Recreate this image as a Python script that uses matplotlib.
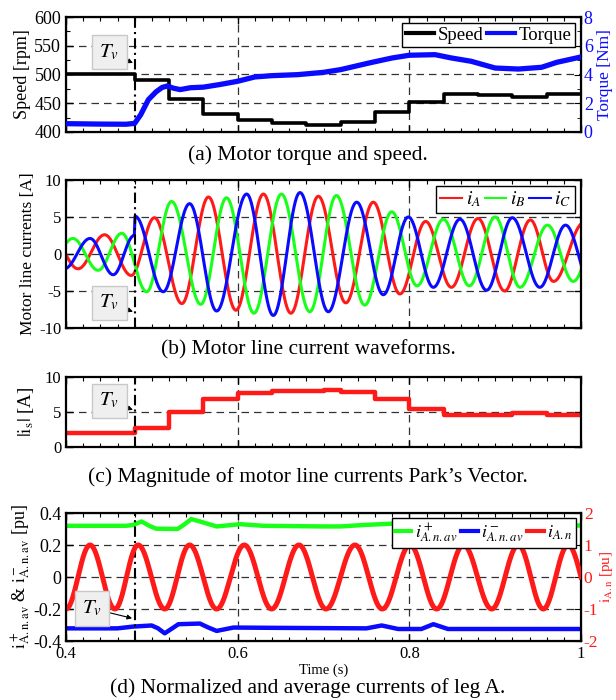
import numpy as np
import matplotlib
matplotlib.use("Agg")
import matplotlib.pyplot as plt
from matplotlib.ticker import MultipleLocator, FixedLocator
from matplotlib.lines import Line2D

plt.rcParams['font.family'] = ['Liberation Serif', 'DejaVu Serif']
plt.rcParams['mathtext.fontset'] = 'stix'
plt.rcParams['axes.unicode_minus'] = False

# ---------------- data ----------------
T_V = 0.48

# (a) speed staircase and torque
speed_t = [0.40, 0.48, 0.52, 0.56, 0.60, 0.64, 0.68, 0.72, 0.76, 0.80, 0.84, 0.88, 0.92, 0.96, 1.00]
speed_v = [500, 490, 457, 432, 420, 415, 413, 418, 434, 453, 466, 465, 460, 466, 466]

torque_t = [0.40, 0.44, 0.47, 0.48, 0.487, 0.496, 0.505, 0.512, 0.518, 0.525, 0.533, 0.545,
            0.56, 0.579, 0.60, 0.62, 0.64, 0.67, 0.70, 0.72, 0.753, 0.78, 0.80, 0.83,
            0.849, 0.872, 0.90, 0.927, 0.954, 0.972, 1.00]
torque_v = [0.58, 0.55, 0.54, 0.60, 1.2, 2.25, 2.8, 3.1, 3.2, 3.05, 2.95, 3.08,
            3.12, 3.3, 3.53, 3.83, 3.92, 3.99, 4.15, 4.34, 4.8, 5.15, 5.34, 5.38,
            5.15, 4.92, 4.45, 4.38, 4.5, 4.85, 5.22]

# (b) extremes (time, value) of the three line currents
ia_t = [0.385, 0.414, 0.445, 0.476, 0.503, 0.535, 0.566, 0.598, 0.630, 0.662, 0.694, 0.726,
        0.758, 0.789, 0.819, 0.849, 0.880, 0.911, 0.941, 0.968, 1.003]
ia_v = [2.0, -2.0, 2.6, -2.9, 4.9, -6.7, 7.7, -7.6, 8.1, -8.0, 7.8, -6.6,
        7.0, -5.4, 4.4, -4.5, 4.8, -5.0, 4.6, -3.7, 4.2]
ib_t = [0.378, 0.408, 0.4375, 0.465, 0.494, 0.523, 0.557, 0.587, 0.619, 0.651, 0.684, 0.715,
        0.748, 0.7795, 0.809, 0.8396, 0.870, 0.900, 0.929, 0.961, 0.991, 1.022]
ib_v = [-2.0, 2.1, -2.2, 2.8, -5.1, 7.1, -6.8, 7.6, -8.0, 8.1, -7.8, 7.9,
        -6.9, 5.7, -4.3, 4.7, -4.3, 5.0, -4.5, 3.9, -3.7, 4.0]
ic_t = [0.398, 0.428, 0.455, 0.4795, 0.4805, 0.5133, 0.544, 0.5755, 0.6105, 0.6415, 0.6726,
        0.7056, 0.7387, 0.7697, 0.7988, 0.828, 0.859, 0.890, 0.920, 0.952, 0.982, 1.013]
ic_v = [-2.0, 2.1, -2.8, 2.5, 5.1, -5.1, 6.8, -7.7, 8.1, -8.3, 8.3,
        -7.8, 7.0, -5.5, 5.0, -4.5, 4.7, -4.9, 4.9, -4.5, 3.9, -4.5]

# (c) |is| staircase
is_t = [0.40, 0.48, 0.52, 0.56, 0.60, 0.64, 0.70, 0.72, 0.76, 0.80, 0.84, 0.92, 0.96, 1.00]
is_v = [2.0, 2.7, 5.0, 6.8, 7.7, 8.0, 8.1, 7.8, 6.8, 5.5, 4.6, 4.8, 4.6, 4.6]

# (d) average currents and normalised current extremes
ip_t = [0.40, 0.47, 0.478, 0.488, 0.497, 0.505, 0.53, 0.537, 0.546, 0.556, 0.5755, 0.603,
        0.63, 0.70, 0.72, 0.75, 0.783, 0.80, 0.85, 0.90, 0.95, 1.00]
ip_v = [0.320, 0.320, 0.325, 0.347, 0.320, 0.302, 0.300, 0.325, 0.362, 0.347, 0.316, 0.330,
        0.320, 0.316, 0.316, 0.326, 0.334, 0.306, 0.318, 0.322, 0.320, 0.322]
im_t = [0.40, 0.46, 0.478, 0.4997, 0.507, 0.515, 0.524, 0.531, 0.556, 0.5655, 0.5755, 0.595,
        0.65, 0.75, 0.7678, 0.787, 0.814, 0.828, 0.845, 0.90, 1.00]
im_v = [-0.321, -0.321, -0.310, -0.303, -0.320, -0.352, -0.320, -0.295, -0.291, -0.315, -0.337, -0.316,
        -0.318, -0.321, -0.303, -0.325, -0.325, -0.295, -0.325, -0.325, -0.325]
ian_t = [0.400, 0.428, 0.457, 0.484, 0.515, 0.544, 0.5755, 0.6077, 0.6396, 0.6714, 0.7029,
         0.7367, 0.7685, 0.8008, 0.8319, 0.863, 0.896, 0.927, 0.956, 0.985, 1.015]
ian_v = [-1, 1, -1, 1, -1, 1, -1, 1, -1, 1, -1, 1, -1, 1, -1, 1, -1, 1, -1, 1, -1]

x_ticks = [0.4, 0.6, 0.8, 1.0]
x_tick_labels = ["0.4", "0.6", "0.8", "1"]
captions = ["(a) Motor torque and speed.",
            "(b) Motor line current waveforms.",
            "(c) Magnitude of motor line currents Park\u2019s Vector.",
            "(d) Normalized and average currents of leg A."]


def smooth_wave(ext_t, ext_v, t):
    ext_t = np.asarray(ext_t)
    ext_v = np.asarray(ext_v)
    idx = np.clip(np.searchsorted(ext_t, t) - 1, 0, len(ext_t) - 2)
    t0, t1 = ext_t[idx], ext_t[idx + 1]
    v0, v1 = ext_v[idx], ext_v[idx + 1]
    s = (t - t0) / (t1 - t0)
    return v0 + (v1 - v0) * (1 - np.cos(np.pi * s)) / 2


# ---------------- figure ----------------
fig = plt.figure(figsize=(6.16, 7.0), dpi=100)
L, R = 66 / 616, 581 / 616
W = R - L


def box(top, bottom):
    return [L, 1 - bottom / 700, W, (bottom - top) / 700]


ax_a = fig.add_axes(box(17, 132))
ax_b = fig.add_axes(box(180, 328))
ax_c = fig.add_axes(box(377, 447))
ax_d = fig.add_axes(box(513, 641))

GRID = dict(color='0.2', lw=0.9, ls=(0, (6, 4)), zorder=0.5)
BLUE = '#0a0aff'
RED = '#ff1a1a'
GREEN = '#1aff1a'


def common(ax, yticks, hlines, show_xlabels=False, right_ticks=True):
    ax.set_xlim(0.4, 1.0)
    ax.xaxis.set_major_locator(FixedLocator(x_ticks))
    ax.xaxis.set_minor_locator(MultipleLocator(0.02))
    if show_xlabels:
        ax.set_xticklabels(x_tick_labels, fontsize=13)
    else:
        ax.set_xticklabels([])
    ax.set_yticks(yticks)
    ax.tick_params(which='both', direction='in', top=True, right=right_ticks, labelsize=12)
    ax.tick_params(which='major', length=5, width=1)
    ax.tick_params(which='minor', length=3, width=0.8)
    for s in ax.spines.values():
        s.set_linewidth(1.6)
    for h in hlines:
        ax.axhline(h, **GRID)
    for v in (0.6, 0.8):
        ax.axvline(v, **GRID)
    ax.axvline(T_V, color='k', lw=1.5, ls=(0, (5, 2, 1, 2)), zorder=3)


def tv_note(ax, xy, xytext, fs=15):
    ax.annotate(r'$T_v$', xy=xy, xytext=xytext, ha='center', va='center', fontsize=fs,
                bbox=dict(boxstyle='square,pad=0.35', fc='#efefef', ec='#c8c8c8', lw=1),
                arrowprops=dict(arrowstyle='-|>', color='k', lw=0.8, mutation_scale=7,
                                shrinkA=0, shrinkB=0),
                zorder=6)


def frame_legend(ax, handles, labels, fs, hl, **kw):
    leg = ax.legend(handles=handles, labels=labels, loc='upper right', ncol=len(labels),
                    fontsize=fs, frameon=True, fancybox=False, edgecolor='k', framealpha=1,
                    handlelength=hl, handletextpad=0.2, columnspacing=0.2, borderpad=0.2, **kw)
    leg.get_frame().set_linewidth(1.0)
    return leg


# ---- (a)
ax_a.set_ylim(400, 600)
common(ax_a, [400, 450, 500, 550, 600], [450, 500, 550], right_ticks=False)
ax_a.yaxis.set_minor_locator(MultipleLocator(25))
ax_a.set_yticklabels(["400", "450", "500", "550", "600"], fontsize=13)
ax_a.plot(speed_t, speed_v, color='k', lw=2.6, drawstyle='steps-post', zorder=4)
ax_a.set_ylabel("Speed [rpm]", fontsize=13, labelpad=2)
ax_a2 = ax_a.twinx()
ax_a2.set_ylim(0, 8)
ax_a2.set_yticks([0, 2, 4, 6, 8])
ax_a2.yaxis.set_minor_locator(MultipleLocator(1))
ax_a2.tick_params(which='both', direction='in', labelsize=13, labelcolor=BLUE, pad=2)
ax_a2.tick_params(which='major', length=5)
ax_a2.tick_params(which='minor', length=3)
ax_a2.plot(torque_t, torque_v, color=BLUE, lw=3.8, zorder=3)
ax_a2.set_ylabel("Torque [Nm]", fontsize=12.5, color=BLUE, labelpad=3)
tv_note(ax_a2, (0.478, 4.8), (0.4505, 5.55))
frame_legend(ax_a2, [Line2D([], [], color='k', lw=3), Line2D([], [], color=BLUE, lw=3)],
             ["Speed", "Torque"], 13.5, 1.5, borderaxespad=0.3)

# ---- (b)
tt = np.linspace(0.4, 1.0, 3000)
ax_b.set_ylim(-10, 10)
common(ax_b, [-10, -5, 0, 5, 10], [-5, 0, 5])
ax_b.plot(tt, smooth_wave(ia_t, ia_v, tt), color=RED, lw=2.2, zorder=2)
ax_b.plot(tt, smooth_wave(ib_t, ib_v, tt), color=GREEN, lw=2.2, zorder=2)
ax_b.plot(tt, smooth_wave(ic_t, ic_v, tt), color=BLUE, lw=2.2, zorder=2)
ax_b.set_ylabel("Motor line currents [A]", fontsize=12.5, labelpad=2)
tv_note(ax_b, (0.478, -7.8), (0.4505, -6.6))
frame_legend(ax_b, [Line2D([], [], color=RED, lw=1.5), Line2D([], [], color=GREEN, lw=1.5),
                    Line2D([], [], color=BLUE, lw=1.5)],
             [r"$i_A$", r"$i_B$", r"$i_C$"], 14, 1.1, borderaxespad=0.3)

# ---- (c)
ax_c.set_ylim(0, 10)
common(ax_c, [0, 5, 10], [5])
ax_c.plot(is_t, is_v, color=RED, lw=3.2, drawstyle='steps-post', zorder=2)
ax_c.set_ylabel(r"$|\mathrm{i}_\mathrm{s}|$ [A]", fontsize=13.5, labelpad=6)
tv_note(ax_c, (0.478, 5.3), (0.4505, 6.6))

# ---- (d)
ax_d.set_ylim(-0.4, 0.4)
common(ax_d, [-0.4, -0.2, 0, 0.2, 0.4], [-0.2, 0, 0.2], show_xlabels=True, right_ticks=False)
ax_d.set_yticklabels(["-0.4", "-0.2", "0", "0.2", "0.4"], fontsize=13)
ax_d.plot(ip_t, ip_v, color=GREEN, lw=3.2, zorder=2)
ax_d.plot(im_t, im_v, color=BLUE, lw=3.2, zorder=2)
ax_d.set_xlabel("Time (s)", fontsize=10.5, labelpad=1)
ax_d.set_ylabel(r"$\mathrm{i}^+_\mathrm{A.n.av}$ & $\mathrm{i}^-_\mathrm{A.n.av}$ [pu]",
                fontsize=13, labelpad=0)
ax_d2 = ax_d.twinx()
ax_d2.set_ylim(-2, 2)
ax_d2.set_yticks([-2, -1, 0, 1, 2])
ax_d2.set_yticklabels(["-2", "-1", "0", "1", "2"])
ax_d2.tick_params(which='both', direction='in', labelsize=12.5, labelcolor=RED, length=5, pad=2)
ax_d2.plot(tt, smooth_wave(ian_t, ian_v, tt), color=RED, lw=3.6, zorder=2)
ax_d2.set_ylabel(r"$\mathrm{i}_\mathrm{A.n}$ [pu]", fontsize=11, color=RED, labelpad=0)
tv_note(ax_d2, (0.477, -1.29), (0.43, -0.98))
frame_legend(ax_d2, [Line2D([], [], color=GREEN, lw=3), Line2D([], [], color=BLUE, lw=3),
                     Line2D([], [], color=RED, lw=3)],
             [r"$i^+_{A.n.av}$", r"$i^-_{A.n.av}$", r"$i_{A.n}$"], 13, 0.9, borderaxespad=0.25)

for y, cap in zip([155, 350, 477, 688], captions):
    fig.text(0.5, 1 - y / 700, cap, ha='center', va='center', fontsize=15.5)

fig.savefig("out.png", dpi=100)
